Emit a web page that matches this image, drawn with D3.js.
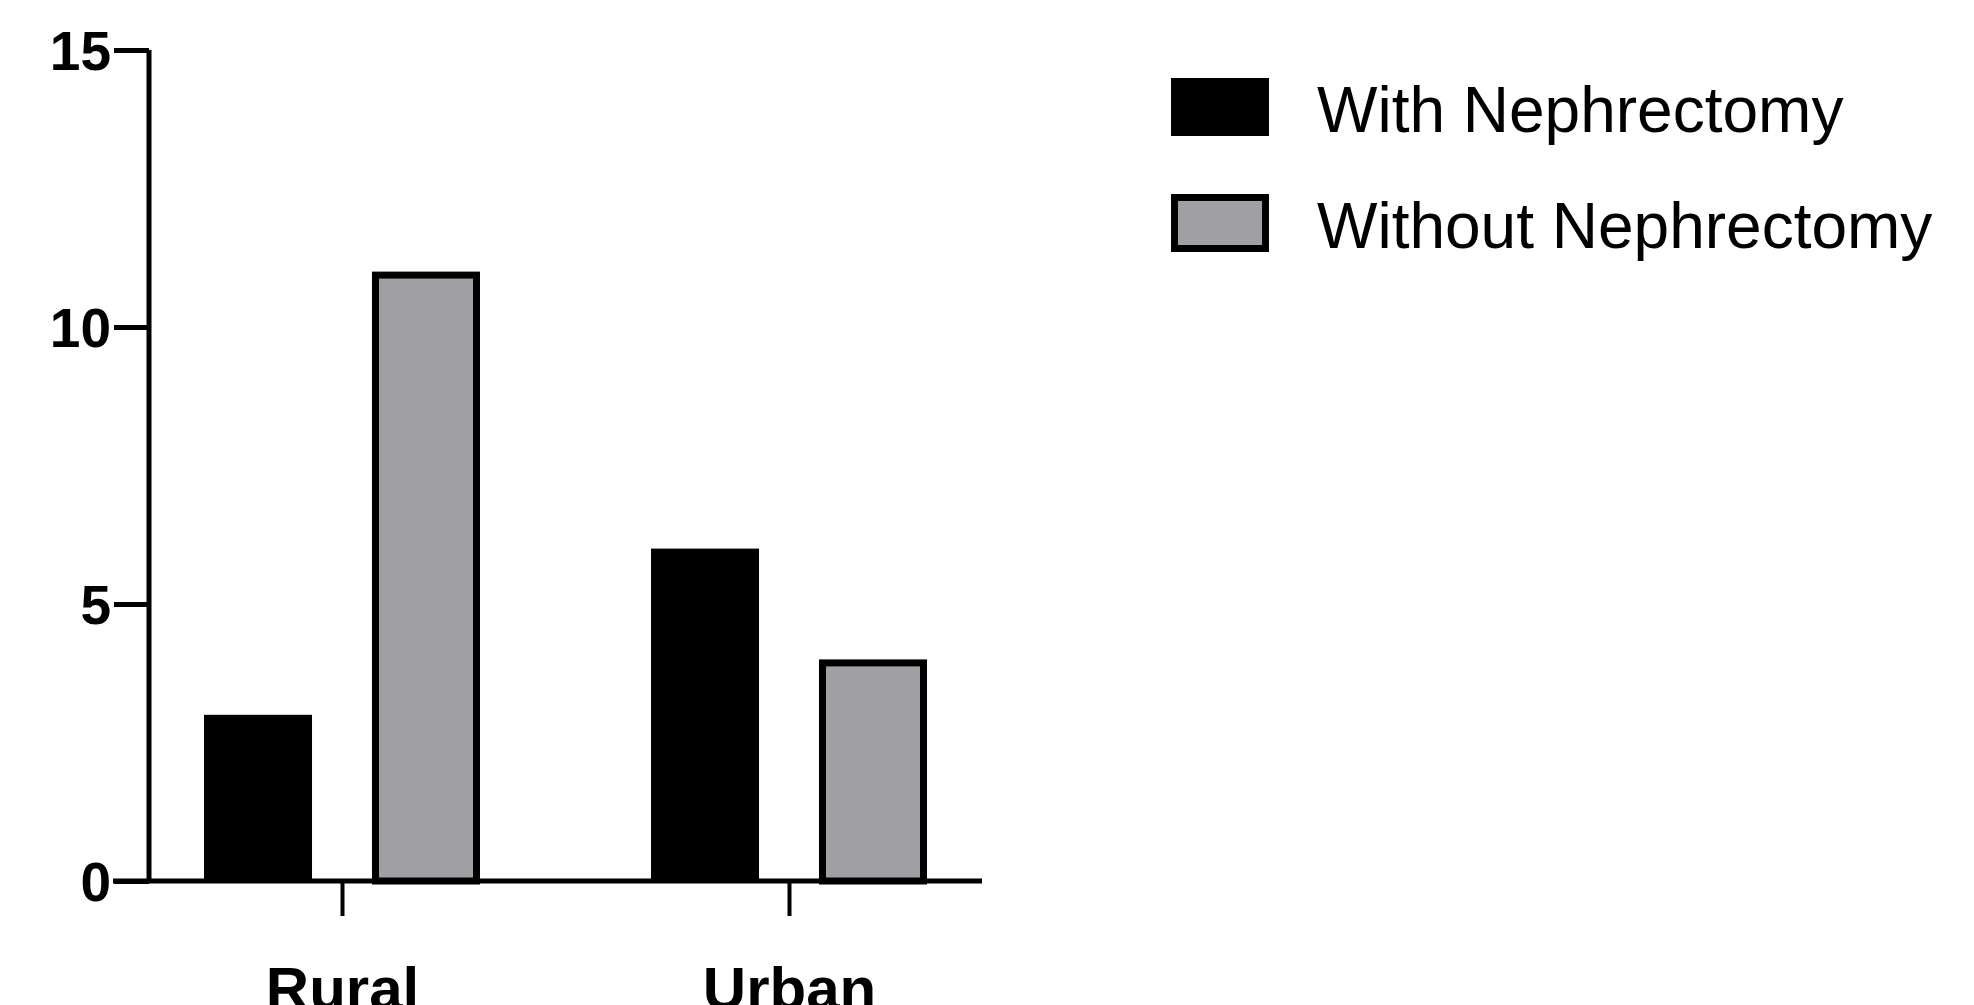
<!DOCTYPE html>
<html><head><meta charset="utf-8">
<script src="https://cdn.jsdelivr.net/npm/d3@7"></script>
<style>body{margin:0;background:#fff}svg{font-family:"Liberation Sans",Arial,sans-serif}</style>
</head><body><svg width="1974" height="1005"></svg>
<script>
const categories = ["Rural", "Urban"];
const series = ["With Nephrectomy", "Without Nephrectomy"];
const withNeph = [3, 6];
const withoutNeph = [11, 4];
const yTicks = [0, 5, 10, 15];

const svg = d3.select("svg");
const y = d3.scaleLinear().domain([0, 15]).range([881, 50]);
const x = d3.scalePoint().domain(categories).range([342, 789]);
const sub = d3.scaleBand().domain(series).range([-138, 138]).paddingInner(0.357);
const fills = ["#000", "#a0a0a4"];

const rows = categories.map((c, i) => ({c, v: [withNeph[i], withoutNeph[i]]}));
const g = svg.append("g");
rows.forEach(r => {
  r.v.forEach((v, j) => {
    const sw = j === 1 ? 7 : 0;
    g.append("rect")
      .attr("x", x(r.c) + sub(series[j]) + sw / 2)
      .attr("y", y(v) + sw / 2)
      .attr("width", sub.bandwidth() - sw)
      .attr("height", y(0) - y(v) - sw / 2)
      .attr("fill", fills[j])
      .attr("stroke", j === 1 ? "#000" : "none")
      .attr("stroke-width", sw);
  });
});

// y axis
const ya = svg.append("g").attr("transform", "translate(149,0)")
  .call(d3.axisLeft(y).tickValues(yTicks).tickSize(35));
ya.select(".domain").attr("stroke-width", 5).attr("d", `M0,${y(15)}V${y(0)}`);
ya.selectAll(".tick line").attr("stroke-width", 5).attr("x2", -35);
ya.selectAll(".tick text").attr("font-size", 55).attr("font-weight", "bold").attr("fill", "#000").attr("x", -38).attr("dy", "0.36em");

// x axis
const xa = svg.append("g").attr("transform", `translate(0,${y(0)})`)
  .call(d3.axisBottom(x).tickSize(35).tickPadding(50));
xa.select(".domain").attr("stroke-width", 5).attr("d", "M113,0H982");
xa.selectAll(".tick line").attr("stroke-width", 4);
xa.selectAll(".tick text").attr("font-size", 60).attr("font-weight", "bold").attr("fill", "#000");

// legend
const lg = svg.append("g");
series.forEach((s, j) => {
  const yy = 78 + j * 116;
  const sw = j === 1 ? 7 : 0;
  lg.append("rect").attr("x", 1171 + sw / 2).attr("y", yy + sw / 2)
    .attr("width", 98 - sw).attr("height", 58 - sw)
    .attr("fill", fills[j]).attr("stroke", "#000").attr("stroke-width", sw);
  lg.append("text").attr("x", 1317).attr("y", yy + 31).attr("dy", "0.36em")
    .attr("font-size", 64).text(s);
});
</script></body></html>
